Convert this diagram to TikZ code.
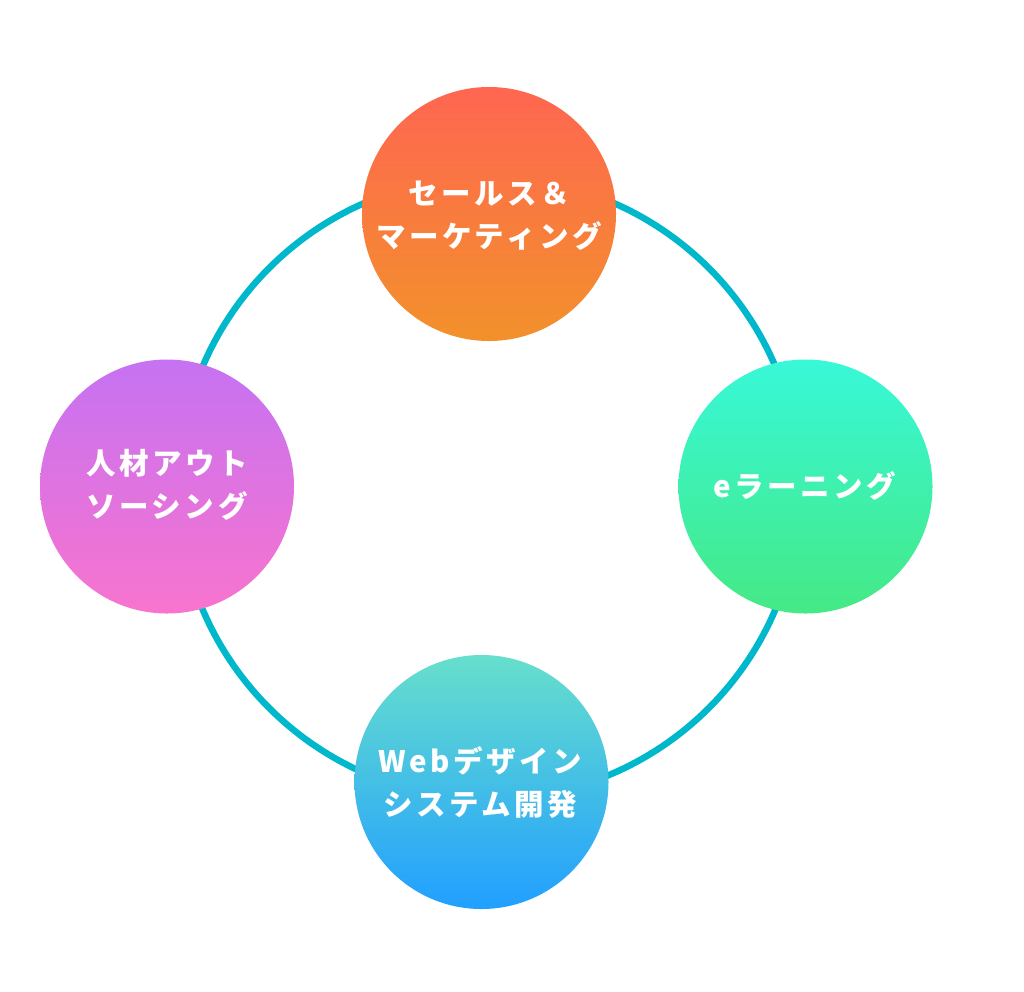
\documentclass[tikz,border=0pt]{standalone}
\usepackage{fontspec}
\newfontfamily\jp[LetterSpace=12]{Noto Sans CJK JP}
\definecolor{ringc}{HTML}{00B8CC}
\definecolor{oTop}{HTML}{FF6651}
\definecolor{oBot}{HTML}{F2912B}
\definecolor{gTop}{HTML}{38F8D8}
\definecolor{gBot}{HTML}{45E985}
\definecolor{bTop}{HTML}{67DFCC}
\definecolor{bBot}{HTML}{219FFF}
\definecolor{pTop}{HTML}{C672F2}
\definecolor{pBot}{HTML}{F874CE}
\tikzset{
  bubble/.style={circle, minimum size=254pt, inner sep=0pt},
  lbl/.style={text=white, align=center, inner sep=0pt,
    font=\jp\bfseries\fontsize{29.5}{43}\selectfont}
}
\begin{document}
\begin{tikzpicture}[x=1pt,y=-1pt]
\useasboundingbox[fill=white] (0,0) rectangle (1024,991);
\node[circle, draw=ringc, line width=6.5pt, minimum size=622pt, inner sep=0pt] (ring) at (489,488) {};
\node[bubble, top color=oTop, bottom color=oBot] (sales) at (489,214) {};
\node[bubble, top color=gTop, bottom color=gBot] (elearn) at (805.5,486.5) {};
\node[bubble, top color=bTop, bottom color=bBot] (web) at (481.5,782) {};
\node[bubble, top color=pTop, bottom color=pBot] (hr) at (167,486.5) {};
\node[lbl] (salesT) at ([xshift=0pt,yshift=-2pt]sales.center) {セールス＆\\マーケティング};
\node[lbl] (elearnT) at ([xshift=-1pt]elearn.center) {eラーニング};
\node[lbl] (webT) at ([xshift=-1pt]web.center) {Webデザイン\\システム開発};
\node[lbl] (hrT) at ([xshift=0pt,yshift=2pt]hr.center) {人材アウト\\ソーシング};
\end{tikzpicture}
\end{document}
